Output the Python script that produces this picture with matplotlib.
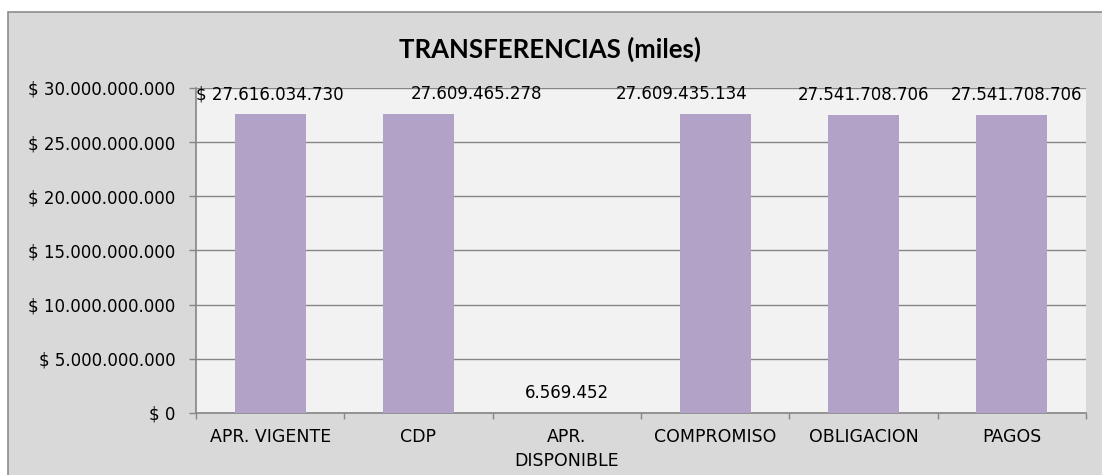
import matplotlib
matplotlib.use("Agg")
import matplotlib.pyplot as plt
from matplotlib.patches import Rectangle
from matplotlib.ticker import FixedLocator, FuncFormatter

categories = ["APR. VIGENTE", "CDP", "APR.\nDISPONIBLE", "COMPROMISO", "OBLIGACION", "PAGOS"]
values = [27616034730, 27609465278, 6569452, 27609435134, 27541708706, 27541708706]
label_prefix = ["$ ", "", "", "", "", ""]
label_dx = [0, 42, 0, -24, 0, 3.5]  # horizontal nudges of data labels (points)
yticks = [0, 5e9, 10e9, 15e9, 20e9, 25e9, 30e9]
title = "TRANSFERENCIAS (miles)"

plt.rcParams['font.family'] = ['DejaVu Sans']

def fmt_num(v):
    return f"{int(round(v)):,}".replace(",", ".")

W, H = 1102, 475
fig = plt.figure(figsize=(W / 100, H / 100), dpi=100)
fig.patch.set_facecolor("white")

# chart area background
fig.patches.append(Rectangle((8 / W, -0.01), 1.02 - 8 / W, (H - 12) / H + 0.01,
                             transform=fig.transFigure, facecolor="#D9D9D9",
                             edgecolor="#8C8C8C", linewidth=1.2, zorder=-5))

ax = fig.add_axes([196 / W, (H - 413) / H, (1086 - 196) / W, (413 - 88) / H])
ax.set_zorder(2)
ax.set_facecolor("#F2F2F2")

x = list(range(len(categories)))
ax.bar(x, values, width=0.48, color="#B3A2C7", zorder=3)

for xi, v, p, dx in zip(x, values, label_prefix, label_dx):
    ax.annotate(p + fmt_num(v), (xi, v), xytext=(dx, 14), textcoords="offset points",
                ha="center", va="center", fontsize=12, color="black", zorder=4)

ax.set_xlim(-0.5, len(categories) - 0.5)
ax.set_ylim(0, 30e9)
ax.set_yticks(yticks)
ax.yaxis.set_major_formatter(FuncFormatter(lambda v, _: "$ " + fmt_num(v)))
ax.grid(axis="y", color="#868686", linewidth=1.0, zorder=1)
ax.set_axisbelow(True)

ax.set_xticks(x)
ax.set_xticklabels(categories, fontsize=12.5, linespacing=1.38)
ax.xaxis.set_minor_locator(FixedLocator([i - 0.5 for i in range(len(categories) + 1)]))
ax.tick_params(axis="x", which="major", length=0, pad=11)
ax.tick_params(axis="x", which="minor", length=4, color="#868686", width=1)
ax.tick_params(axis="y", length=5, color="#868686", width=1, pad=10, labelsize=12)

for s in ["top", "right"]:
    ax.spines[s].set_visible(False)
for s in ["left", "bottom"]:
    ax.spines[s].set_color("#868686")
    ax.spines[s].set_linewidth(1.2)

fig.text(550 / W, (H - 58) / H, title, ha="center", va="baseline",
         fontsize=18.5, fontweight="bold", color="black", zorder=5,
         family=["Lato", "DejaVu Sans"])

fig.savefig("out.png", dpi=100)
